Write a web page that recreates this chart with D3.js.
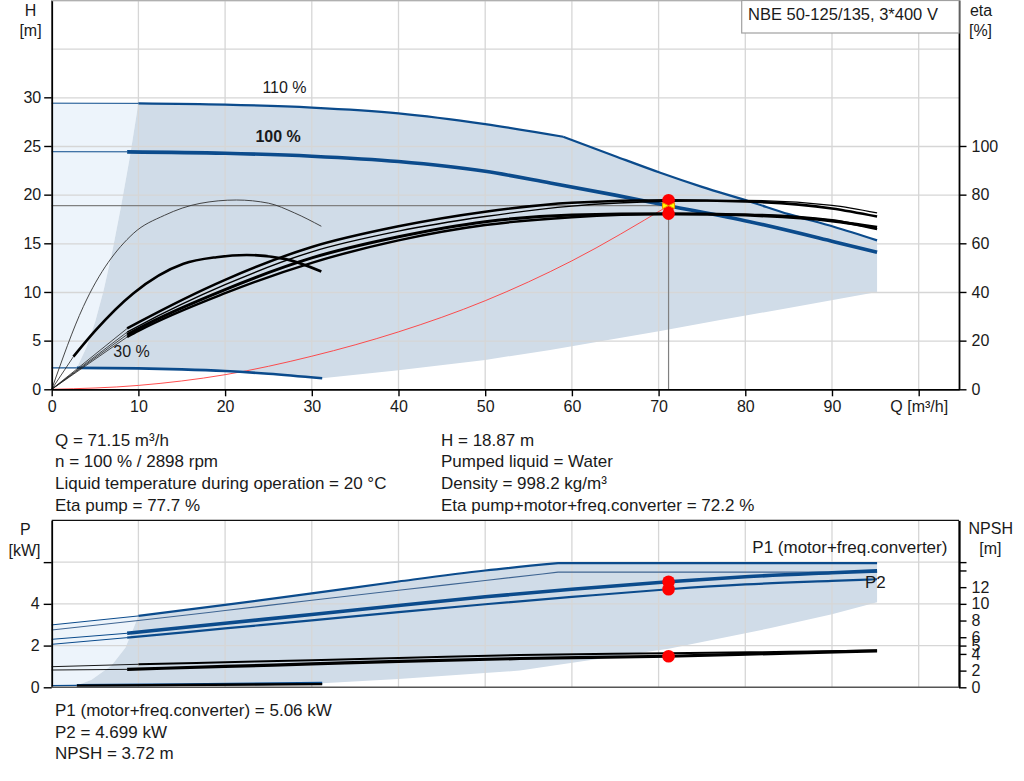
<!DOCTYPE html>
<html><head><meta charset="utf-8">
<script src="https://cdn.jsdelivr.net/npm/d3@7"></script>
<style>
body{margin:0;background:#fff}
svg{display:block}
text{font-family:"Liberation Sans",Arial,sans-serif;fill:#1a1a1a}
</style>
</head><body>
<svg id="c" width="1024" height="781"></svg>
<script>
// ---------- tick labels ----------
const qTicks = [0,10,20,30,40,50,60,70,80,90,100];
const hTicks = [0,5,10,15,20,25,30];
const hGrid = [5,10,15,20,25,30,35,40];
const etaTicks = [0,20,40,60,80,100];
const pTicks = [0,2,4,6];
const pGrid = [2,4,6];
const npshTicks = [0,2,4,5,6,8,10,12];
const npshMinor = [14,15];

// ---------- head curves [Q m3/h, H m] ----------
const h110Thin = [[0,29.4],[10,29.38]];
const h110a = [[10,29.38],[20,29.25],[30,28.95],[40,28.36],[50,27.25],[59,25.95]];
const h110b = [[59,25.95],[65,23.95],[70.2,22.25],[75,20.8],[80.5,19.3],[85,18.0],[90.2,16.7],[95.2,15.3]];
const h100Thin = [[0,24.41],[8.7,24.4]];
const h100 = [[8.7,24.4],[20,24.25],[30,23.95],[40,23.4],[50,22.4],[57.5,21.2],[65,19.95],[71.15,18.87],[80.5,17.22],[90.2,15.17],[95.2,14.07]];
const h30Thin = [[0,2.2],[2.9,2.2]];
const h30 = [[2.9,2.2],[10,2.15],[15,2.05],[20,1.88],[25,1.6],[31.2,1.13]];
const hMinFlow = [[2.9,2.2],[4,4.3],[5,6.9],[6,10.2],[7,14.2],[8,18.8],[9,23.8],[10,29.38]];
const hLowerEdge = [[31.2,1.13],[40,1.95],[50,3.02],[57.5,4.04],[65,5.2],[70.2,6.0],[77.1,7.12],[85,8.35],[95.2,10.0]];
const systemCurve = [[0,0],[10,0.4],[20,1.5],[30,3.4],[40,5.9],[50,9.1],[60,13.2],[71.15,18.87]];

// ---------- efficiency curves [Q, eta %] ----------
const etaPump100 = [[8.7,25],[10,27.5],[20,45],[30,58.5],[40,67],[50,73],[60,76.7],[71.15,77.7],[80,77.2],[90,74.3],[95.2,71]];
const etaPump110 = [[8.7,23.5],[10,26],[20,43],[30,56.5],[40,65],[50,71],[60,75.3],[71.15,77.3],[80,77.6],[90,75.6],[95.2,72.5]];
const etaTot100 = [[8.7,22.5],[10,25],[20,41],[30,54],[40,62.7],[50,68.9],[60,71.6],[71.15,72.2],[80,71.6],[90,69.2],[95.2,66.6]];
const etaTot110 = [[8.7,21.5],[10,24],[20,39.5],[30,52],[40,61.2],[50,67.5],[60,70.7],[71.15,72.0],[80,71.8],[90,69.5],[95.2,65.8]];
const etaPump30 = [[0,0],[3.65,34],[9.4,64],[13,71.5],[17.1,76.4],[21.3,77.8],[25,76.5],[28,72.5],[31.1,67]];
const etaTot30 = [[2.5,13.4],[5,24],[9.4,39.4],[15.2,51.6],[19,54.3],[22.5,55.2],[27,53.5],[31.1,48.4]];

// ---------- power curves [Q, P kW] ----------
const p1_110Thin = [[0,2.99],[10,3.42]];
const p1_110a = [[10,3.42],[20,3.95],[30,4.5],[40,5.07],[50,5.6],[58.4,5.95]];
const p1_110b = [[58.4,5.95],[95.2,5.95]];
const p2_110a = [[0,2.75],[10,3.2],[20,3.68],[30,4.17],[40,4.65],[50,5.12],[58.4,5.52]];
const p2_110b = [[58.4,5.52],[95.2,5.52]];
const p1_100Thin = [[0,2.30],[8.7,2.59]];
const p1_100 = [[8.7,2.59],[20,3.07],[30,3.49],[40,3.92],[50,4.34],[60,4.70],[71.15,5.06],[80,5.3],[90,5.49],[95.2,5.58]];
const p2_100Thin = [[0,2.06],[8.7,2.38]];
const p2_100 = [[8.7,2.38],[20,2.82],[30,3.21],[40,3.60],[50,3.98],[60,4.33],[71.15,4.699],[80,4.93],[90,5.1],[95.2,5.18]];
const p30Thin = [[0,0.08],[2.9,0.09]];
const p30 = [[2.9,0.09],[15,0.13],[31.2,0.2]];
const pMinFlow = [[2.9,0.09],[4.6,0.36],[6.9,1.05],[8.5,1.9],[9.4,2.8],[10,3.42]];
const pLowerEdge = [[31.2,0.19],[40,0.4],[54,0.8],[62,1.3],[71.15,1.85],[82.8,2.83],[90,3.5],[95.2,4.08]];

// ---------- NPSH curves [Q, NPSH m] ----------
const n110Thin = [[0,2.47],[10,2.76]];
const n110 = [[10,2.76],[20,3.0],[30,3.25],[40,3.5],[54,3.88],[71.15,4.08],[85,4.25],[95.2,4.4]];
const n100Thin = [[0,2.07],[8.7,2.15]];
const n100 = [[8.7,2.15],[20,2.5],[30,2.8],[40,3.1],[54,3.45],[71.15,3.72],[85,4.1],[95.2,4.36]];
const n30 = [[2.9,0.2],[31.2,0.38]];

// ---------- duty point ----------
const duty = {Q:71.15, H:18.87, etaPump:77.7, etaTot:72.2, P1:5.06, P2:4.699, NPSH:3.72};

const infoLeft = ["Q = 71.15 m³/h","n = 100 % / 2898 rpm","Liquid temperature during operation = 20 °C","Eta pump = 77.7 %"];
const infoRight = ["H = 18.87 m","Pumped liquid = Water","Density = 998.2 kg/m³","Eta pump+motor+freq.converter = 72.2 %"];
const infoBottom = ["P1 (motor+freq.converter) = 5.06 kW","P2 = 4.699 kW","NPSH = 3.72 m"];

// ---------- drawing ----------
const BLUE = "#0b4b8c", SHADE = "#d0dce8", LIGHT = "#edf4fb", GRID = "#d6d6d6";
const svg = d3.select("#c");
const x = d3.scaleLinear([0,104.65],[51.7,959]);
const yH = d3.scaleLinear([0,40],[389.3,0]);
const yE = d3.scaleLinear([0,160],[389.3,0]);
const yP = d3.scaleLinear([0,8],[687.3,520.4]);
const yN = d3.scaleLinear([0,20],[687.3,520.4]);

const lineFor = (ys, curve) => d3.line().x(d=>x(d[0])).y(d=>ys(d[1])).curve(curve||d3.curveMonotoneX);
const polyFor = ys => pts => "M" + pts.map(d=>x(d[0])+","+ys(d[1])).join("L") + "Z";

// shading top
const h110 = h110a.concat(h110b.slice(1));
const p1_110 = p1_110a.concat(p1_110b.slice(1));
const topLight = [[0,2.2],[0,29.4],[10,29.38]].concat(hMinFlow.slice().reverse());
const topDark = h110.concat(hLowerEdge.slice().reverse()).concat(h30.slice().reverse()).concat(hMinFlow);
svg.append("path").attr("d", polyFor(yH)(topLight)).attr("fill", LIGHT);
svg.append("path").attr("d", polyFor(yH)(topDark)).attr("fill", SHADE);
// shading bottom
const botLight = [[0,0.08],[0,2.99],[10,3.42]].concat(pMinFlow.slice().reverse());
const botDark = p1_110.concat(pLowerEdge.slice().reverse()).concat(p30.slice().reverse()).concat(pMinFlow);
svg.append("path").attr("d", polyFor(yP)(botLight)).attr("fill", LIGHT);
svg.append("path").attr("d", polyFor(yP)(botDark)).attr("fill", SHADE);

// grids
const g = svg.append("g").attr("stroke", GRID).attr("stroke-width", 1.3).attr("fill","none");
qTicks.filter(d=>d>0).forEach(q=>{
  g.append("line").attr("x1",x(q)).attr("x2",x(q)).attr("y1",yH(40)).attr("y2",yH(0));
  g.append("line").attr("x1",x(q)).attr("x2",x(q)).attr("y1",yP(8)).attr("y2",yP(0));
});
hGrid.forEach(h=>g.append("line").attr("x1",x(0)).attr("x2",x(104.65)).attr("y1",yH(h)+0.5).attr("y2",yH(h)+0.5));
pGrid.forEach(p=>g.append("line").attr("x1",x(0)).attr("x2",x(104.65)).attr("y1",yP(p)).attr("y2",yP(p)));

// helpers
function draw(data, ys, color, w, curve){
  return svg.append("path").attr("d", lineFor(ys, curve)(data)).attr("fill","none")
    .attr("stroke", color).attr("stroke-width", w).attr("stroke-linejoin","round");
}

// duty lines
svg.append("line").attr("x1",x(0)).attr("x2",x(duty.Q)).attr("y1",yH(duty.H)).attr("y2",yH(duty.H)).attr("stroke","#808080").attr("stroke-width",1.2);
svg.append("line").attr("x1",x(duty.Q)).attr("x2",x(duty.Q)).attr("y1",yH(duty.H)).attr("y2",yH(0)).attr("stroke","#808080").attr("stroke-width",1.2);

// system curve
draw(systemCurve, yH, "#ff3b3b", 0.9);

// head curves
draw(h110Thin, yH, BLUE, 1);
draw(h110a, yH, BLUE, 2.2);
draw(h110b, yH, BLUE, 2.2);
draw(h100Thin, yH, BLUE, 1);
draw(h100, yH, BLUE, 3.6);
draw(h30Thin, yH, BLUE, 1.2);
draw(h30, yH, BLUE, 2.6);

// efficiency curves, with thin links from origin
[etaPump100, etaPump110, etaTot100, etaTot110, etaTot30].forEach(c=>{
  draw([[0,0], c[0]], yE, "#222", 0.8);
});
draw(etaPump30, yE, "#333", 0.9);
draw(etaTot30, yE, "#000", 2.6);
draw(etaTot110, yE, "#000", 2.4);
draw(etaTot100, yE, "#000", 3.0);
draw(etaPump110, yE, "#000", 1.4);
draw(etaPump100, yE, "#000", 2.5);

// power curves
draw(p1_110Thin, yP, BLUE, 1);
draw(p1_110a, yP, BLUE, 2.2);
draw(p1_110b, yP, BLUE, 2.2);
draw(p2_110a, yP, "#3f6592", 1.1);
draw(p2_110b, yP, "#3f6592", 1.1);
draw(p1_100Thin, yP, BLUE, 1);
draw(p1_100, yP, BLUE, 3.6);
draw(p2_100Thin, yP, BLUE, 1);
draw(p2_100, yP, BLUE, 2.2);
draw(p30Thin, yP, BLUE, 1.2);
draw(p30, yP, BLUE, 2.6);

// NPSH curves
draw(n110Thin, yN, "#000", 0.9);
draw(n110, yN, "#000", 2.0);
draw(n100Thin, yN, "#000", 0.9);
draw(n100, yN, "#000", 3.2);
draw(n30, yN, "#000", 2.4);

// axes
function styleAxis(sel){
  sel.selectAll("path.domain").attr("stroke","#000").attr("stroke-width",1.8);
  sel.selectAll(".tick line").attr("stroke","#000").attr("stroke-width",1.4);
  sel.selectAll(".tick text").style("font-family",'"Liberation Sans",Arial,sans-serif').style("font-size","16px").attr("fill","#1a1a1a");
}
svg.append("g").attr("transform",`translate(${x(0)},0)`)
  .call(d3.axisLeft(yH).tickValues(hTicks).tickSize(7.5).tickPadding(3).tickSizeOuter(0)).call(styleAxis);
svg.append("g").attr("transform",`translate(${x(104.65)},0)`)
  .call(d3.axisRight(yE).tickValues(etaTicks).tickSize(7.5).tickPadding(5).tickSizeOuter(0)).call(styleAxis);
svg.append("g").attr("transform",`translate(0,${yH(0)})`)
  .call(d3.axisBottom(x).tickValues(qTicks).tickSize(7).tickPadding(4).tickSizeOuter(0)
    .tickFormat(d=> d===100 ? "Q [m³/h]" : d)).call(styleAxis);
// top frame
svg.append("line").attr("x1",x(0)).attr("x2",x(104.65)).attr("y1",0.6).attr("y2",0.6).attr("stroke","#b0b0b0").attr("stroke-width",1.2);

svg.append("g").attr("transform",`translate(${x(0)},0)`)
  .call(d3.axisLeft(yP).tickValues(pTicks).tickSize(8).tickPadding(4).tickSizeOuter(0)
    .tickFormat(d=> d===6 ? "" : d)).call(styleAxis);
svg.append("g").attr("transform",`translate(${x(104.65)},0)`)
  .call(d3.axisRight(yN).tickValues(npshTicks).tickSize(7.5).tickPadding(5).tickSizeOuter(0)).call(styleAxis);
svg.append("g").attr("transform",`translate(${x(104.65)},0)`)
  .call(d3.axisRight(yN).tickValues(npshMinor).tickSize(7.5).tickFormat("").tickSizeOuter(0)).call(styleAxis);
svg.append("line").attr("x1",x(0)).attr("x2",x(104.65)).attr("y1",yP(0)).attr("y2",yP(0)).attr("stroke","#555").attr("stroke-width",1.6);
svg.append("line").attr("x1",x(0)).attr("x2",x(104.65)).attr("y1",yP(8)).attr("y2",yP(8)).attr("stroke","#111").attr("stroke-width",1.4);

// duty point markers
const dots = [[duty.H, yH],[duty.etaPump, yE],[duty.etaTot, yE],[duty.P1, yP],[duty.P2, yP],[duty.NPSH, yN]];
dots.forEach(([v, ys])=>svg.append("circle").attr("cx",x(duty.Q)).attr("cy",ys(v)).attr("r",6.3).attr("fill","#ff0000"));
const cx = x(duty.Q), cy = yH(duty.H);
svg.append("path").attr("d",`M${cx-6},${cy-3}L${cx},${cy}L${cx-6},${cy+3}ZM${cx+6},${cy-3}L${cx},${cy}L${cx+6},${cy+3}Z`)
  .attr("fill","#ffff00").attr("stroke","#f09000").attr("stroke-width",1);

// curve labels
const T = (txt, xx, yy, opts={}) => {
  const t = svg.append("text").attr("x",xx).attr("y",yy).attr("dominant-baseline","central")
    .style("font-size",(opts.size||16)+"px").text(txt);
  if (opts.anchor) t.attr("text-anchor",opts.anchor);
  if (opts.bold) t.style("font-weight","bold");
  if (opts.fill) t.attr("fill",opts.fill);
  return t;
};
T("110 %", x(24.3), yH(31.0));
T("100 %", x(23.5), yH(25.95), {bold:true});
T("30 %", x(7.1), yH(3.86));

// axis titles
T("H", 30.5, 10, {anchor:"middle"});
T("[m]", 30.5, 30, {anchor:"middle"});
T("eta", 981, 10, {anchor:"middle"});
T("[%]", 980.5, 30, {anchor:"middle"});
T("P", 25.3, 529, {anchor:"middle"});
T("[kW]", 24.5, 550, {anchor:"middle"});
T("NPSH", 990.8, 528.3, {anchor:"middle"});
T("[m]", 990.3, 548.3, {anchor:"middle"});

// title box
svg.append("rect").attr("x",741.7).attr("y",0.5).attr("width",x(104.65)-741.7).attr("height",32.5)
  .attr("fill","#fff").attr("stroke","#a0a0a0").attr("stroke-width",1.2);
T("NBE 50-125/135, 3*400 V", 748, 14, {size:16.5});

// bottom chart labels
T("P1 (motor+freq.converter)", 752.3, 547.3, {fill:"#1f5a99", size:17});
T("P2", 865, 582.7, {fill:"#1f5a99", size:17});

// info text
const rowY = [440.7, 461.7, 483.3, 505];
infoLeft.forEach((s,i)=>T(s, 55, rowY[i], {size:17}));
infoRight.forEach((s,i)=>T(s, 441, rowY[i], {size:17}));
const rowY2 = [710.7, 732.7, 753.3];
infoBottom.forEach((s,i)=>T(s, 55, rowY2[i], {size:17}));
</script>
</body></html>
